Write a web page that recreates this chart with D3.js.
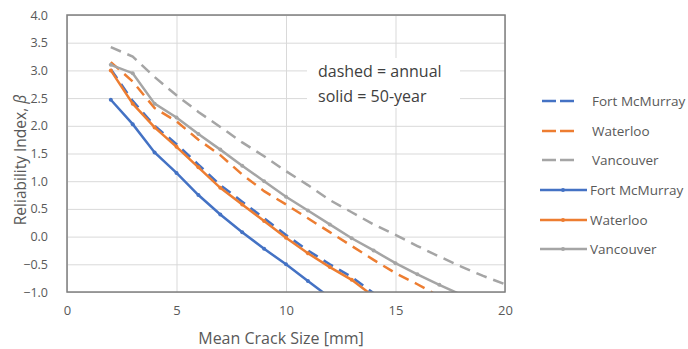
<!DOCTYPE html>
<html>
<head>
<meta charset="utf-8">
<script src="https://cdn.jsdelivr.net/npm/d3@7"></script>
<style>
body { margin: 0; background: #fff; }
svg text { font-family: "Open Sans", "Liberation Sans", sans-serif; }
</style>
</head>
<body>
<svg id="chart" width="688" height="349"></svg>
<script>
// crack size [mm], shared by every series (series stop when they leave the chart)
var crackSize = [2, 3, 4, 5, 6, 7, 8, 9, 10, 11, 12, 13, 14, 15, 16, 17, 18, 19, 20];

// annual (dashed)
var fortAnnual = [3.02, 2.45, 2.00, 1.67, 1.30, 0.93, 0.63, 0.33, 0.03, -0.25, -0.50, -0.73, -1.02];
var waterlooAnnual = [3.15, 2.80, 2.32, 2.08, 1.75, 1.47, 1.12, 0.82, 0.58, 0.33, 0.08, -0.17, -0.42, -0.66, -0.86, -1.08];
var vancouverAnnual = [3.42, 3.25, 2.88, 2.55, 2.25, 1.98, 1.70, 1.45, 1.18, 0.93, 0.66, 0.44, 0.22, 0.03, -0.17, -0.36, -0.54, -0.71, -0.86];

// 50-year (solid)
var fort50 = [2.47, 2.03, 1.52, 1.15, 0.75, 0.40, 0.08, -0.22, -0.50, -0.80, -1.10];
var waterloo50 = [3.00, 2.40, 1.97, 1.62, 1.25, 0.88, 0.58, 0.28, -0.02, -0.30, -0.55, -0.78, -1.08];
var vancouver50 = [3.10, 2.95, 2.40, 2.15, 1.85, 1.57, 1.28, 1.00, 0.72, 0.47, 0.22, -0.03, -0.25, -0.48, -0.68, -0.87, -1.05];

var seriesNames = ["Fort McMurray", "Waterloo", "Vancouver"];
var colors = ["#4472C4", "#ED7D31", "#A5A5A5"];
var xTicks = [0, 5, 10, 15, 20];
var yTicks = [-1, -0.5, 0, 0.5, 1, 1.5, 2, 2.5, 3, 3.5, 4];

var series = [
  { name: seriesNames[0], values: fortAnnual, color: colors[0], dashed: true },
  { name: seriesNames[1], values: waterlooAnnual, color: colors[1], dashed: true },
  { name: seriesNames[2], values: vancouverAnnual, color: colors[2], dashed: true },
  { name: seriesNames[0], values: fort50, color: colors[0], dashed: false },
  { name: seriesNames[1], values: waterloo50, color: colors[1], dashed: false },
  { name: seriesNames[2], values: vancouver50, color: colors[2], dashed: false }
];

var svg = d3.select("#chart");
var pL = 67, pR = 505, pT = 15, pB = 292;

var x = d3.scaleLinear().domain([0, 20]).range([pL, pR]);
var y = d3.scaleLinear().domain([-1, 4]).range([pB, pT]);

// gridlines
svg.append("g")
  .attr("transform", "translate(0," + pB + ")")
  .call(d3.axisBottom(x).tickValues(xTicks).tickSize(-(pB - pT)).tickFormat(""))
  .call(function (g) {
    g.select(".domain").remove();
    g.selectAll("line").attr("stroke", "#d9d9d9").attr("stroke-width", 1);
  });
svg.append("g")
  .attr("transform", "translate(" + pL + ",0)")
  .call(d3.axisLeft(y).tickValues(yTicks).tickSize(-(pR - pL)).tickFormat(""))
  .call(function (g) {
    g.select(".domain").remove();
    g.selectAll("line").attr("stroke", "#d9d9d9").attr("stroke-width", 1);
  });

// note box
svg.append("rect")
  .attr("x", 307).attr("y", 58).attr("width", 153).attr("height", 50)
  .attr("fill", "#fff");
svg.append("text").attr("x", 318).attr("y", 77)
  .attr("font-size", "16px").attr("fill", "#404040").text("dashed = annual");
svg.append("text").attr("x", 318).attr("y", 102)
  .attr("font-size", "16px").attr("fill", "#404040").text("solid = 50-year");

// tick labels
svg.append("g")
  .attr("transform", "translate(0," + pB + ")")
  .call(d3.axisBottom(x).tickValues(xTicks).tickSize(0).tickPadding(14).tickFormat(d3.format("d")))
  .call(function (g) {
    g.select(".domain").remove();
    g.selectAll("text").attr("font-size", "13px").attr("fill", "#595959")
      .style("font-family", "'Open Sans', sans-serif");
  });
svg.append("g")
  .attr("transform", "translate(" + pL + ",0)")
  .call(d3.axisLeft(y).tickValues(yTicks).tickSize(0).tickPadding(19).tickFormat(d3.format(".1f")))
  .call(function (g) {
    g.select(".domain").remove();
    g.selectAll("text").attr("font-size", "12.5px").attr("fill", "#595959")
      .style("font-family", "'Open Sans', sans-serif");
  });

// clip
svg.append("clipPath").attr("id", "plotclip")
  .append("rect").attr("x", pL).attr("y", pT).attr("width", pR - pL).attr("height", pB - pT);

var line = d3.line()
  .x(function (d, i) { return x(crackSize[i]); })
  .y(function (d) { return y(d); });

var plot = svg.append("g").attr("clip-path", "url(#plotclip)");

series.forEach(function (s) {
  plot.append("path")
    .datum(s.values)
    .attr("d", line)
    .attr("fill", "none")
    .attr("stroke", s.color)
    .attr("stroke-width", 2.5)
    .attr("stroke-dasharray", s.dashed ? "11,7" : null);
  if (!s.dashed) {
    plot.selectAll(null)
      .data(s.values)
      .enter()
      .append("circle")
      .attr("cx", function (d, i) { return x(crackSize[i]); })
      .attr("cy", function (d) { return y(d); })
      .attr("r", 2)
      .attr("fill", s.color);
  }
});

// plot border
svg.append("rect")
  .attr("x", pL).attr("y", pT).attr("width", pR - pL).attr("height", pB - pT)
  .attr("fill", "none").attr("stroke", "#7f7f7f").attr("stroke-width", 1.5);

// axis titles
svg.append("text")
  .attr("x", (pL + pR) / 2 - 5).attr("y", 344)
  .attr("text-anchor", "middle").attr("font-size", "16px").attr("fill", "#595959")
  .text("Mean Crack Size [mm]");
var yt = svg.append("text")
  .attr("transform", "translate(26,160) rotate(-90)")
  .attr("text-anchor", "middle").attr("font-size", "15.5px").attr("fill", "#595959");
yt.append("tspan").text("Reliability Index, ");
yt.append("tspan").attr("font-style", "italic").text("β");

// legend
var legendY = [101, 131, 160, 190, 220, 249];
var legend = svg.selectAll(".legend")
  .data(series)
  .enter()
  .append("g")
  .attr("class", "legend")
  .attr("transform", function (d, i) { return "translate(0," + legendY[i] + ")"; });

legend.append("line")
  .attr("x1", function (d) { return d.dashed ? 542 : 540; })
  .attr("x2", function (d) { return d.dashed ? 574 : 587; })
  .attr("y1", 0).attr("y2", 0)
  .attr("stroke", function (d) { return d.color; })
  .attr("stroke-width", 2.5)
  .attr("stroke-dasharray", function (d) { return d.dashed ? "14,4" : null; });
legend.filter(function (d) { return !d.dashed; })
  .append("circle")
  .attr("cx", 563).attr("cy", 0).attr("r", 2)
  .attr("fill", function (d) { return d.color; });
legend.append("text")
  .attr("x", function (d) { return d.dashed ? 592 : 590; })
  .attr("y", 0).attr("dy", "0.35em")
  .attr("font-size", "13.5px").attr("fill", "#595959")
  .text(function (d) { return d.name; });
</script>
</body>
</html>
